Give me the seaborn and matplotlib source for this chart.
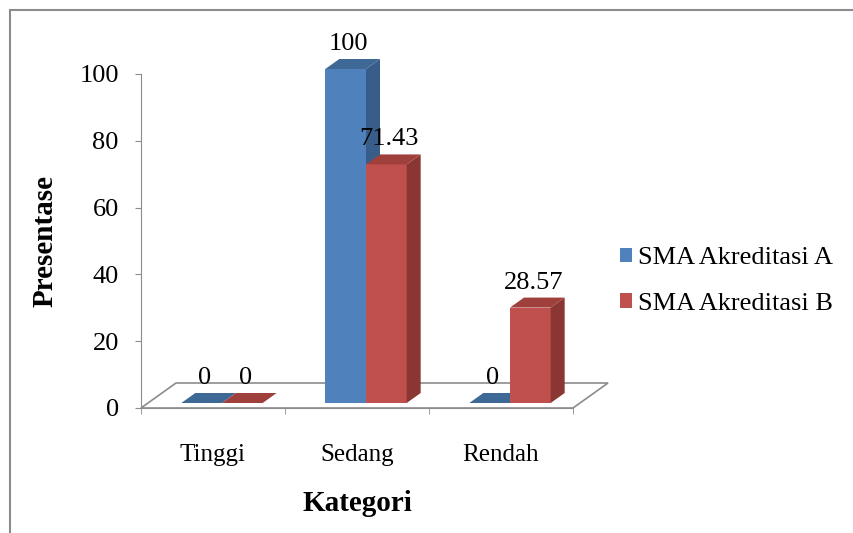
import matplotlib
matplotlib.use("Agg")
import matplotlib.pyplot as plt
import seaborn as sns
import pandas as pd
from matplotlib.patches import Polygon, Rectangle, Patch
from matplotlib.transforms import IdentityTransform, Affine2D

categories = ["Tinggi", "Sedang", "Rendah"]
series = ["SMA Akreditasi A", "SMA Akreditasi B"]
akreditasi_a = [0, 100, 0]
akreditasi_b = [0, 71.43, 28.57]

df = pd.DataFrame({
    "Kategori": categories * 2,
    "Seri": [series[0]] * 3 + [series[1]] * 3,
    "Presentase": akreditasi_a + akreditasi_b,
})

front = {series[0]: "#4F81BD", series[1]: "#C0504D"}
side = {series[0]: "#385D8A", series[1]: "#8A3633"}
top = {series[0]: "#3E6896", series[1]: "#A0403D"}
grey = "#8c8c8c"

sns.set_style("white")
plt.rcParams["font.family"] = ["Liberation Serif", "DejaVu Serif"]
plt.rcParams["text.color"] = "black"
plt.rcParams["axes.labelcolor"] = "black"
plt.rcParams["xtick.labelcolor"] = "black"
plt.rcParams["ytick.labelcolor"] = "black"

fig = plt.figure(figsize=(8.54, 5.33), dpi=100)
ax = fig.add_axes([141 / 854, 1 - 408 / 533, (573 - 141) / 854, (408 - 74) / 533])

sns.barplot(data=df, x="Kategori", y="Presentase", hue="Seri", hue_order=series,
            palette=front, width=0.565, legend=False, ax=ax, saturation=1)
ax.set_xlim(-0.5, 2.5)
ax.set_ylim(0, 100)

# pseudo 3D offsets in pixels
off_x, off_y = 9, 5       # bar front face shift
dep_x, dep_y = 14, 10     # bar depth
floor_x, floor_y = 35, 25  # floor depth
ident = IdentityTransform()

# floor
fl = ax.transData.transform([(-0.5, 0), (2.5, 0)])
floor = Polygon([fl[0], fl[1], fl[1] + (floor_x, floor_y), fl[0] + (floor_x, floor_y)],
                closed=True, facecolor="white", edgecolor=grey, lw=1.2,
                transform=ident, zorder=0.5, clip_on=False)
ax.add_patch(floor)

bars = list(ax.patches)[:6]
for i, bar in enumerate(bars):
    name = series[i // 3]
    val = df["Presentase"].iloc[i]
    z = 2 + (i // 3) * 0.5
    bar.set_transform(ax.transData + Affine2D().translate(off_x, off_y))
    bar.set_zorder(z)
    bar.set_edgecolor("none")
    bar.set_clip_on(False)
    x0, x1 = bar.get_x(), bar.get_x() + bar.get_width()
    (px0, py0), (px1, py1) = ax.transData.transform([(x0, 0), (x1, bar.get_height())])
    px0 += off_x; px1 += off_x; py0 += off_y; py1 += off_y
    sd = Polygon([(px1, py0), (px1 + dep_x, py0 + dep_y), (px1 + dep_x, py1 + dep_y), (px1, py1)],
                 closed=True, facecolor=side[name], edgecolor="none",
                 transform=ident, zorder=z + 0.1, clip_on=False)
    tp = Polygon([(px0, py1), (px1, py1), (px1 + dep_x, py1 + dep_y), (px0 + dep_x, py1 + dep_y)],
                 closed=True, facecolor=top[name], edgecolor="none",
                 transform=ident, zorder=z + 0.1, clip_on=False)
    ax.add_patch(sd)
    ax.add_patch(tp)
    ax.text((px0 + px1) / 2 + 3, py1 + dep_y + 4, f"{val:g}", transform=ident,
            ha="center", va="bottom", fontsize=19, zorder=5)

# axes styling
for s in ["top", "right"]:
    ax.spines[s].set_visible(False)
ax.spines["left"].set_color(grey)
ax.spines["bottom"].set_color(grey)
ax.spines["bottom"].set_zorder(0.6)
ax.set_yticks([0, 20, 40, 60, 80, 100])
ax.tick_params(axis="y", direction="out", length=4, color=grey, labelsize=19, pad=12, left=True)
ax.set_xticks([0, 1, 2])
ax.set_xticklabels(categories)
ax.set_xticks([-0.5, 0.5, 1.5, 2.5], minor=True)
ax.tick_params(axis="x", which="major", length=0, labelsize=18, pad=26)
ax.tick_params(axis="x", which="minor", direction="out", length=4, color=grey, bottom=True)
ax.set_xlabel("Kategori", fontsize=21, fontweight="bold", labelpad=17)
ax.set_ylabel("Presentase", fontsize=21, fontweight="bold", labelpad=15)

handles = [Patch(facecolor=front[s], edgecolor="none", label=s) for s in series]
fig.legend(handles=handles, loc="center left", bbox_to_anchor=(596 / 854, 1 - 281 / 533),
           frameon=False, fontsize=19, handlelength=0.45, handleheight=0.45,
           handletextpad=0.25, labelspacing=0.9)

fig.add_artist(Rectangle((10 / 854, -0.1), 1.2, 523 / 533 + 0.1, transform=fig.transFigure,
                         fill=False, edgecolor=grey, lw=1.5))

fig.savefig("out.png", dpi=100)
